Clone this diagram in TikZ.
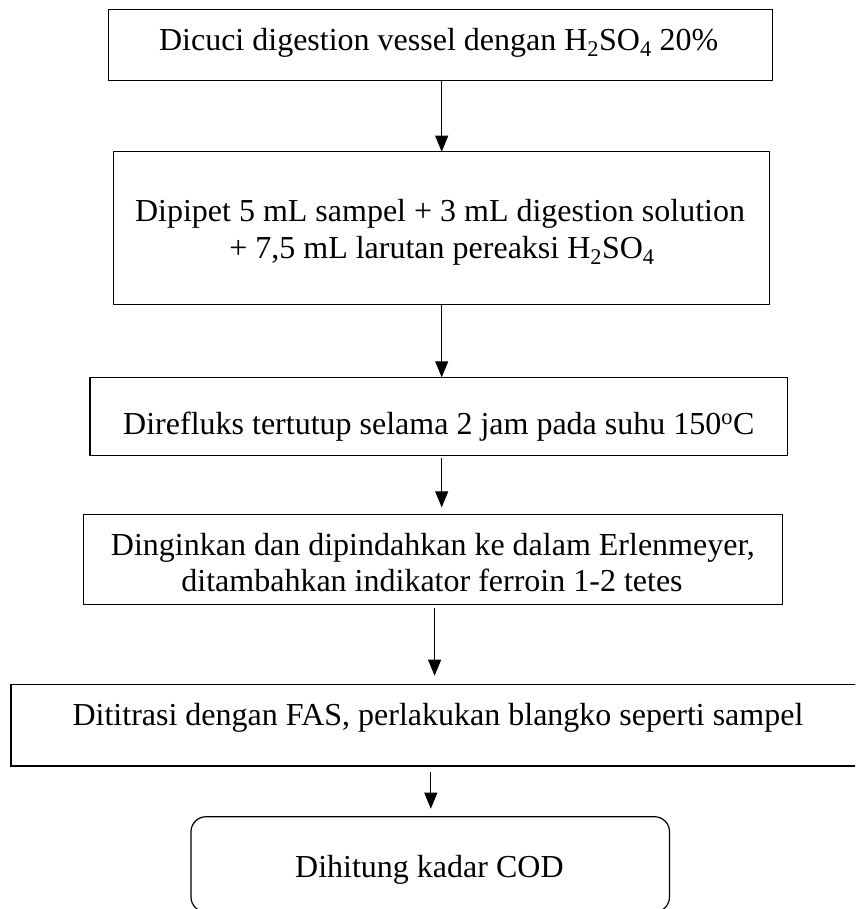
\documentclass[tikz,border=0pt]{standalone}
\usepackage{fontspec}
\setmainfont{Liberation Serif}
\usetikzlibrary{arrows.meta}
\begin{document}
\begin{tikzpicture}[x=1pt,y=-1pt,
 box/.style={draw, line width=1.2pt, inner sep=0pt, outer sep=0pt},
 txt/.style={inner sep=0pt, anchor=base, font=\fontsize{32}{38}\selectfont},
 arr/.style={draw, line width=0.9pt, -{Triangle[length=16pt,width=13pt]}}]
\useasboundingbox (0,0) rectangle (855,909);
\clip (0,0) rectangle (855,909);
% boxes
\node[box, minimum width=663.6pt, minimum height=71.4pt] (b1) at (440.5,45) {};
\node[box, minimum width=656.4pt, minimum height=153pt] (b2) at (441.5,228.2) {};
\node[box, minimum width=697.4pt, minimum height=78.4pt] (b3) at (438.7,416.5) {};
\node[box, minimum width=699.1pt, minimum height=90pt] (b4) at (433,559.3) {};
\node[box, minimum width=860pt, minimum height=81.3pt] (b5) at (440.9,725.35) {};
\node[box, rounded corners=15pt, minimum width=478.5pt, minimum height=95.3pt] (b6) at (430.25,864.35) {};
% texts
\node[txt] (t1) at (438.7,50.7) {Dicuci digestion vessel dengan H\textsubscript{2}SO\textsubscript{4} 20\%};
\node[txt] (t2a) at (440,221.7) {Dipipet 5 mL sampel + 3 mL digestion solution};
\node[txt] (t2b) at (442,258) {+ 7,5 mL larutan pereaksi H\textsubscript{2}SO\textsubscript{4}};
\node[txt] (t3) at (438.8,434) {Direfluks tertutup selama 2 jam pada suhu 150\textsuperscript{o}C};
\node[txt] (t4a) at (432.9,555) {Dinginkan dan dipindahkan ke dalam Erlenmeyer,};
\node[txt] (t4b) at (432,591.7) {ditambahkan indikator ferroin 1-2 tetes};
\node[txt] (t5) at (438,725) {Dititrasi dengan FAS, perlakukan blangko seperti sampel};
\node[txt] (t6) at (429.4,877.3) {Dihitung kadar COD};
% arrows
\coordinate (c1) at (441.7,0);
\coordinate (c4) at (434.6,0);
\coordinate (c5) at (430.8,0);
\draw[arr] (b1.south -| c1) -- (b2.north -| c1);
\draw[arr] (b2.south -| c1) -- (b3.north -| c1);
\draw[arr, shorten <=2pt, shorten >=7pt] (b3.south -| c1) -- (b4.north -| c1);
\draw[arr, shorten <=4pt, shorten >=9pt] (b4.south -| c4) -- (b5.north -| c4);
\draw[arr, shorten <=6pt, shorten >=8pt] (b5.south -| c5) -- (b6.north -| c5);
\end{tikzpicture}
\end{document}
